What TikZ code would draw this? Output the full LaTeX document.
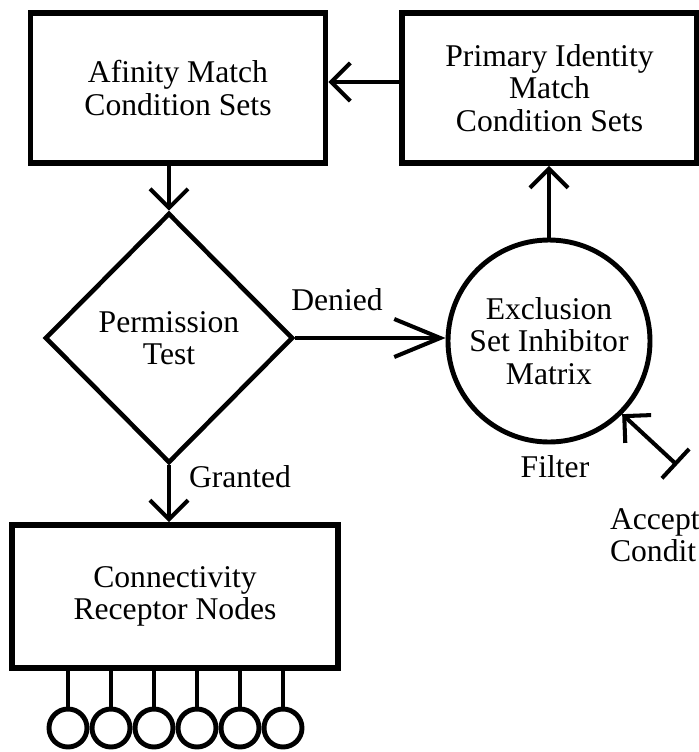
\documentclass[tikz,border=0pt]{standalone}
\usepackage{fontspec}
\setmainfont{Liberation Serif}
\usetikzlibrary{positioning}
\usetikzlibrary{shapes.geometric}
\usetikzlibrary{arrows.meta}

\begin{document}
\begin{tikzpicture}[>={Straight Barb[length=0.38cm, width=0.76cm]}, line width=2.3pt, font=\fontsize{18}{18.5}\selectfont,
	box/.style={draw, line width=3.4pt, align=center, minimum width=5.9cm, minimum height=3cm},
	roundBox/.style={draw, circle, line width=2.8pt, align=center, inner sep=0pt}]
	\useasboundingbox (0,0) rectangle (13.98,-15.04);
	\node[box] (affinity) at (3.56,-1.76) {Afinity Match\\Condition Sets};
	\node[box] (primary) at (10.99,-1.76) {Primary Identity\\Match\\Condition Sets};
	\node[draw, diamond, line width=2.6pt, align=center, inner sep=0pt, minimum width=4.96cm, minimum height=5cm] (permTest) at (3.38,-6.76) {Permission\\Test};
	\node[roundBox, minimum size=4.04cm] (exclusion) at (10.98,-6.82) {Exclusion\\Set Inhibitor\\Matrix};
	\node[box, minimum width=6.52cm, minimum height=2.86cm] (receptor) at (3.5,-11.93) {Connectivity\\Receptor Nodes};
	\node (denied) at (6.74,-6.0) {Denied};
	\node (granted) at (4.8,-9.54) {Granted};
	\node (filter) at (11.1,-9.34) {Filter};
	\node[anchor=west, align=left, inner sep=0pt] (accText) at (12.16,-10.7) {Accept\\Condit};
	\coordinate (accept) at (13.54,-9.3);
	\draw[->] ([yshift=0.12cm]primary.west) -- ([yshift=0.12cm]affinity.east);
	\draw[->] (permTest.north |- affinity.south) -- (permTest.north);
	\draw[->, >={Straight Barb[length=0.92cm, width=0.76cm]}] (permTest.east) -- (permTest.east -| exclusion.west);
	\draw[->] (exclusion.north) -- (exclusion.north |- primary.south);
	\draw[->] (permTest.south) -- (permTest.south |- receptor.north);
	\draw[{Bar[width=0.8cm]}->] (accept) -- (exclusion.south east);
	\foreach \i in {0,...,5} {
		\node[roundBox, minimum size=0.76cm] (rNode\i) at ({1.36+0.86*\i},-14.56) {};
		\draw[line width=2.8pt] (rNode\i.north) -- (rNode\i.north |- receptor.south);
	}
\end{tikzpicture}
\end{document}
